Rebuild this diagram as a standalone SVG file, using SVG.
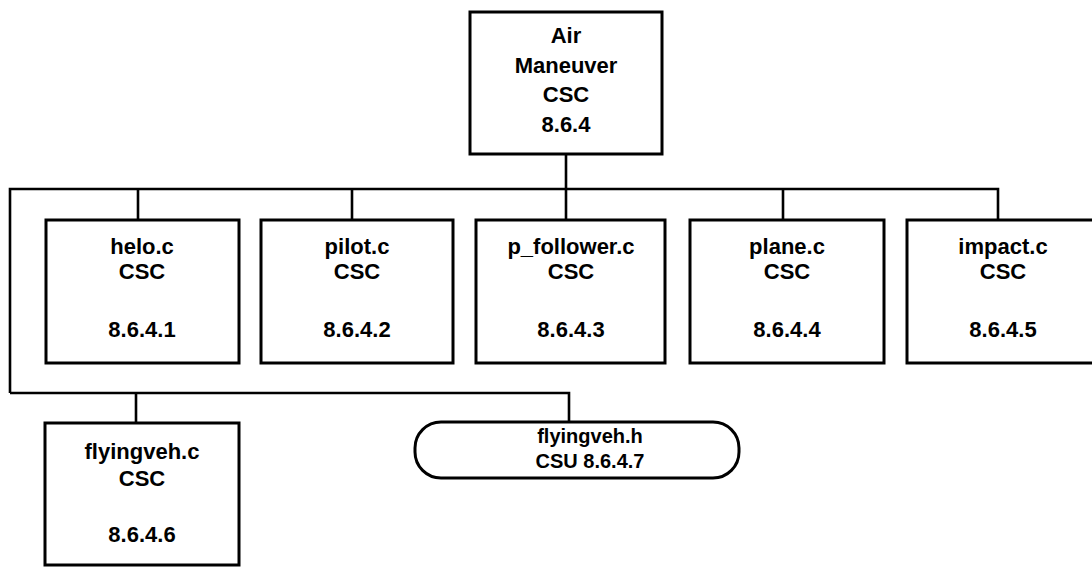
<svg xmlns="http://www.w3.org/2000/svg" width="1092" height="567" viewBox="0 0 1092 567">
<style>
.box{fill:#fff;stroke:#000;stroke-width:3}
.conn{fill:none;stroke:#000;stroke-width:2.6}
text{font-family:"Liberation Sans",Arial,Helvetica,sans-serif;font-size:22px;font-weight:bold;text-anchor:middle;fill:#000}
text.sm{font-size:20px}
</style>
<rect width="1092" height="567" fill="#fff"/>
<g id="connectors">
<path class="conn" d="M566,154 V220"/>
<path class="conn" d="M10,393 V189 H998 V220"/>
<path class="conn" d="M138,189 V220"/>
<path class="conn" d="M352,189 V220"/>
<path class="conn" d="M783,189 V220"/>
<path class="conn" d="M10,393 H569 V422"/>
<path class="conn" d="M136,393 V423"/>
</g>
<g id="air-maneuver">
<rect class="box" x="470" y="12" width="192" height="142"/>
<text x="566" y="43">Air</text>
<text x="566" y="73">Maneuver</text>
<text x="566" y="102">CSC</text>
<text x="566" y="132">8.6.4</text>
</g>
<g id="helo">
<rect class="box" x="46" y="220" width="193" height="143"/>
<text x="142" y="254">helo.c</text>
<text x="142" y="279">CSC</text>
<text x="142" y="337">8.6.4.1</text>
</g>
<g id="pilot">
<rect class="box" x="261" y="220" width="192" height="143"/>
<text x="357" y="254">pilot.c</text>
<text x="357" y="279">CSC</text>
<text x="357" y="337">8.6.4.2</text>
</g>
<g id="p_follower">
<rect class="box" x="476" y="220" width="189" height="143"/>
<text x="571" y="254">p_follower.c</text>
<text x="571" y="279">CSC</text>
<text x="571" y="337">8.6.4.3</text>
</g>
<g id="plane">
<rect class="box" x="690" y="220" width="194" height="143"/>
<text x="787" y="254">plane.c</text>
<text x="787" y="279">CSC</text>
<text x="787" y="337">8.6.4.4</text>
</g>
<g id="impact">
<rect class="box" x="907" y="220" width="193" height="143"/>
<text x="1003" y="254">impact.c</text>
<text x="1003" y="279">CSC</text>
<text x="1003" y="337">8.6.4.5</text>
</g>
<g id="flyingveh_c">
<rect class="box" x="45" y="423" width="194" height="142"/>
<text x="142" y="459">flyingveh.c</text>
<text x="142" y="486">CSC</text>
<text x="142" y="542">8.6.4.6</text>
</g>
<g id="flyingveh_h">
<rect class="box" x="415" y="422" width="324" height="56" rx="26" ry="26"/>
<text class="sm" x="590" y="443">flyingveh.h</text>
<text class="sm" x="590" y="468">CSU 8.6.4.7</text>
</g>
</svg>
